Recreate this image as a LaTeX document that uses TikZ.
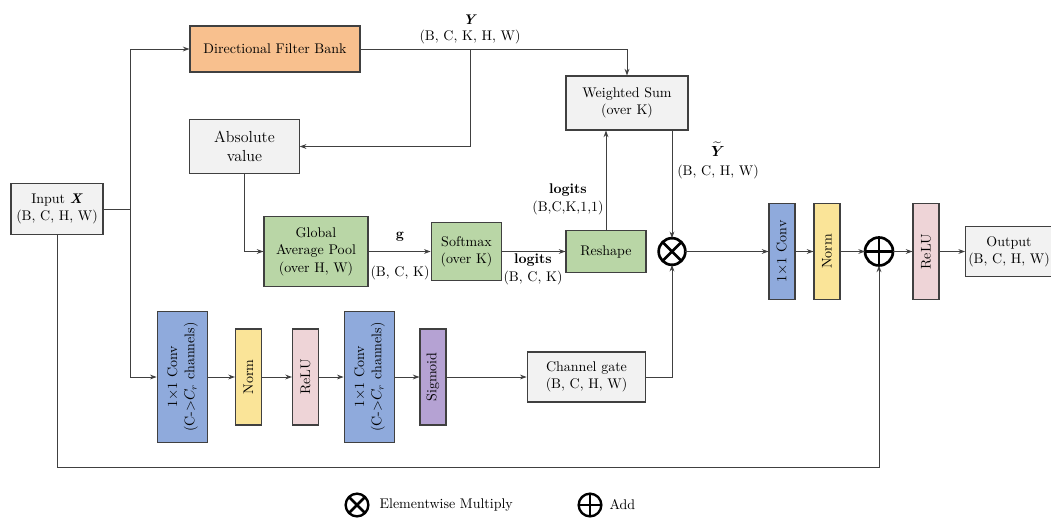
\documentclass[tikz,border=0pt]{standalone}
\usepackage{amsmath}
\usepackage{tikz}
\usetikzlibrary{arrows.meta, calc}
\definecolor{edgegray}{RGB}{64,64,64}
\definecolor{fillgray}{RGB}{242,242,242}
\definecolor{dfborange}{RGB}{248,192,142}
\definecolor{poolgreen}{RGB}{185,214,166}
\definecolor{convblue}{RGB}{143,170,220}
\definecolor{normyellow}{RGB}{250,228,152}
\definecolor{relupink}{RGB}{238,212,215}
\definecolor{sigpurple}{RGB}{181,162,211}
\tikzset{
  box/.style={rectangle, draw=edgegray, fill=fillgray, align=center,
    line width=0.8pt, font=\fontsize{10.5}{13}\selectfont, inner sep=2pt},
  greenbox/.style={box, fill=poolgreen},
  vbox/.style={box, rotate=90, minimum width=72pt, minimum height=19.5pt},
  widevbox/.style={box, rotate=90, minimum width=98pt, minimum height=38pt, fill=convblue},
  opnode/.style={circle, draw=black, line width=2pt, minimum size=20pt,
    inner sep=0pt, outer sep=0pt},
  multop/.style={opnode, path picture={
    \draw[line width=2pt] (path picture bounding box.south west) -- (path picture bounding box.north east)
      (path picture bounding box.north west) -- (path picture bounding box.south east);}},
  addop/.style={opnode, path picture={
    \draw[line width=2pt] (path picture bounding box.south) -- (path picture bounding box.north)
      (path picture bounding box.west) -- (path picture bounding box.east);}},
  arrow/.style={-{Stealth[length=5pt,width=3.6pt]}, line width=0.7pt, color=edgegray},
  line/.style={line width=0.7pt, color=edgegray},
  lbl/.style={font=\fontsize{10.5}{13}\selectfont, inner sep=1pt, align=center}
}

\begin{document}
\begin{tikzpicture}[x=0.75pt, y=-0.75pt]
  \useasboundingbox (0,0) rectangle (1051,518);

  % top part
  \node[box, minimum width=69pt, minimum height=38pt] (inp) at (57,209) {Input \textbf{\textit{X}}\\(B, C, H, W)};
  \node[box, fill=dfborange, minimum width=127.5pt, minimum height=34.5pt] (dfb) at (275,49) {Directional Filter Bank};
  \node[box, minimum width=82pt, minimum height=41pt, font=\large] (absv) at (244.5,146.5) {Absolute\\value};
  \node[box, minimum width=91.5pt, minimum height=40.5pt] (ws) at (627,103) {Weighted Sum\\(over K)};

  % middle row
  \node[greenbox, minimum width=78pt, minimum height=53pt] (gap) at (316,251.5) {Global\\Average Pool\\(over H, W)};
  \node[greenbox, minimum width=53pt, minimum height=43.5pt] (soft) at (466.5,251.5) {Softmax\\(over K)};
  \node[greenbox, minimum width=60pt, minimum height=31pt] (resh) at (606,251.5) {Reshape};
  \node[multop] (mult) at (672,251.5) {};
  \node[vbox, fill=convblue] (conv3) at (782,251.5) {1$\times$1 Conv};
  \node[vbox, fill=normyellow] (norm2) at (827,251.5) {Norm};
  \node[addop, minimum size=21pt] (add) at (879,251.5) {};
  \node[vbox, fill=relupink] (relu2) at (926,251.5) {ReLU};
  \node[box, minimum width=61.5pt, minimum height=38pt] (outp) at (1009,251.5) {Output\\(B, C, H, W)};

  % bottom row
  \node[widevbox] (conv1) at (182.5,377) {1$\times$1 Conv\\(C->$C_r$ channels)};
  \node[vbox, fill=normyellow] (norm1) at (248.5,377) {Norm};
  \node[vbox, fill=relupink] (relu1) at (305.5,377) {ReLU};
  \node[widevbox] (conv2) at (369.5,377) {1$\times$1 Conv\\(C->$C_r$ channels)};
  \node[vbox, fill=sigpurple] (sig) at (433,377) {Sigmoid};
  \node[box, minimum width=89pt, minimum height=37.5pt] (gate) at (586.5,377) {Channel gate\\(B, C, H, W)};

  % labels
  \node[lbl] (ylbl) at (470,20) {\textbf{\textit{Y}}};
  \node[lbl] (ydim) at (470,37) {(B, C, K, H, W)};
  \node[lbl] (glbl) at (400,237) {\textbf{g}};
  \node[lbl] (gdim) at (400,273) {(B, C, K)};
  \node[lbl] (lglbl) at (533,260) {\textbf{logits}};
  \node[lbl] (lgdim) at (533,278) {(B, C, K)};
  \node[lbl] (lg2lbl) at (568,190) {\textbf{logits}};
  \node[lbl] (lg2dim) at (568,208) {(B,C,K,1,1)};
  \node[lbl, inner sep=0pt] (ytlbl) at (718,149) {$\widetilde{\boldsymbol{Y}}$};
  \node[lbl] (ytdim) at (718,172) {(B, C, H, W)};

  % connectors
  \coordinate (bus) at (130,209);
  \coordinate (ysplit) at (470,49);
  \coordinate (skip) at (57,467);
  \draw[line] (inp) -- (bus);
  \draw[arrow] (bus) |- (dfb);
  \draw[arrow] (bus) |- (conv1);
  \draw[arrow] (dfb) -| (ws);
  \draw[arrow] (ysplit) |- (absv);
  \draw[arrow] (absv) |- (gap);
  \draw[arrow] (gap) -- (soft);
  \draw[arrow] (soft) -- (resh);
  \draw[arrow] (resh) -- (resh |- ws.south);
  \draw[arrow] (ws.south -| mult) -- (mult);
  \draw[arrow] (mult) -- (conv3);
  \draw[arrow] (conv3) -- (norm2);
  \draw[arrow] (norm2) -- (add);
  \draw[arrow] (add) -- (relu2);
  \draw[arrow] (relu2) -- (outp);
  \draw[arrow] (conv1) -- (norm1);
  \draw[arrow] (norm1) -- (relu1);
  \draw[arrow] (relu1) -- (conv2);
  \draw[arrow] (conv2) -- (sig);
  \draw[arrow] (sig) -- (gate);
  \draw[arrow] (gate) -| (mult);
  \draw[arrow] (inp) -- (skip) -| (add);

  % legend
  \node[multop, minimum size=17pt, line width=1.8pt] (lmult) at (357,505) {};
  \node[lbl, anchor=west] (lmulttxt) at (378,505) {Elementwise Multiply};
  \node[addop, minimum size=17pt, line width=1.8pt] (ladd) at (590,505) {};
  \node[lbl, anchor=west] (laddtxt) at (608,505) {Add};
\end{tikzpicture}
\end{document}
